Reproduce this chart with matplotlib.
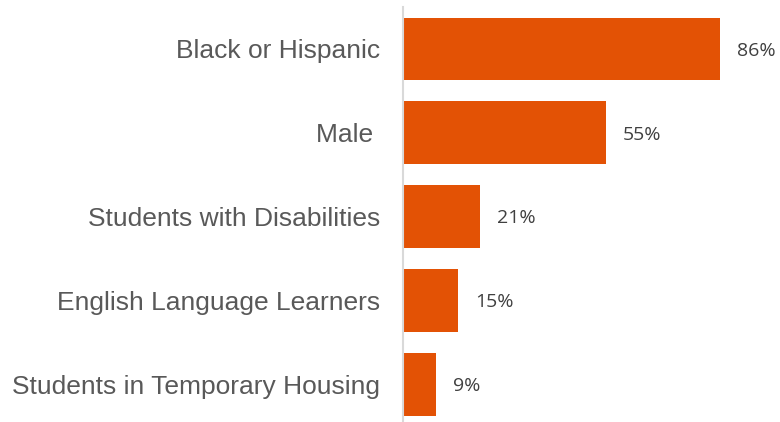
import matplotlib.pyplot as plt

categories = ['Black or Hispanic', 'Male ', 'Students with Disabilities',
              'English Language Learners', 'Students in Temporary Housing']
values = [86, 55, 21, 15, 9]
labels = ['86%', '55%', '21%', '15%', '9%']

fig = plt.figure(figsize=(7.8, 4.22), dpi=100)
ax = fig.add_axes([403 / 780, 0, 368.6 / 780, (422 - 7.06) / 422])

ypos = list(range(len(categories)))
ax.barh(ypos, values, height=0.75, color='#E35205')
ax.set_xlim(0, 100)
ax.set_ylim(4.447, -0.5)

for y, v, t in zip(ypos, values, labels):
    ax.text(v + 4.6, y + 0.02, t, va='center', ha='left', fontsize=14,
            family='Open Sans', color='#404040')

ax.set_yticks(ypos)
ax.set_yticklabels(categories, fontsize=19, family='Liberation Sans', color='#595959')
ax.tick_params(axis='y', length=0, pad=16.5)
ax.set_xticks([])

for s in ['top', 'right', 'bottom']:
    ax.spines[s].set_visible(False)
ax.spines['left'].set_color('#D9D9D9')
ax.spines['left'].set_linewidth(1.5)

fig.savefig('out.png', dpi=100)
